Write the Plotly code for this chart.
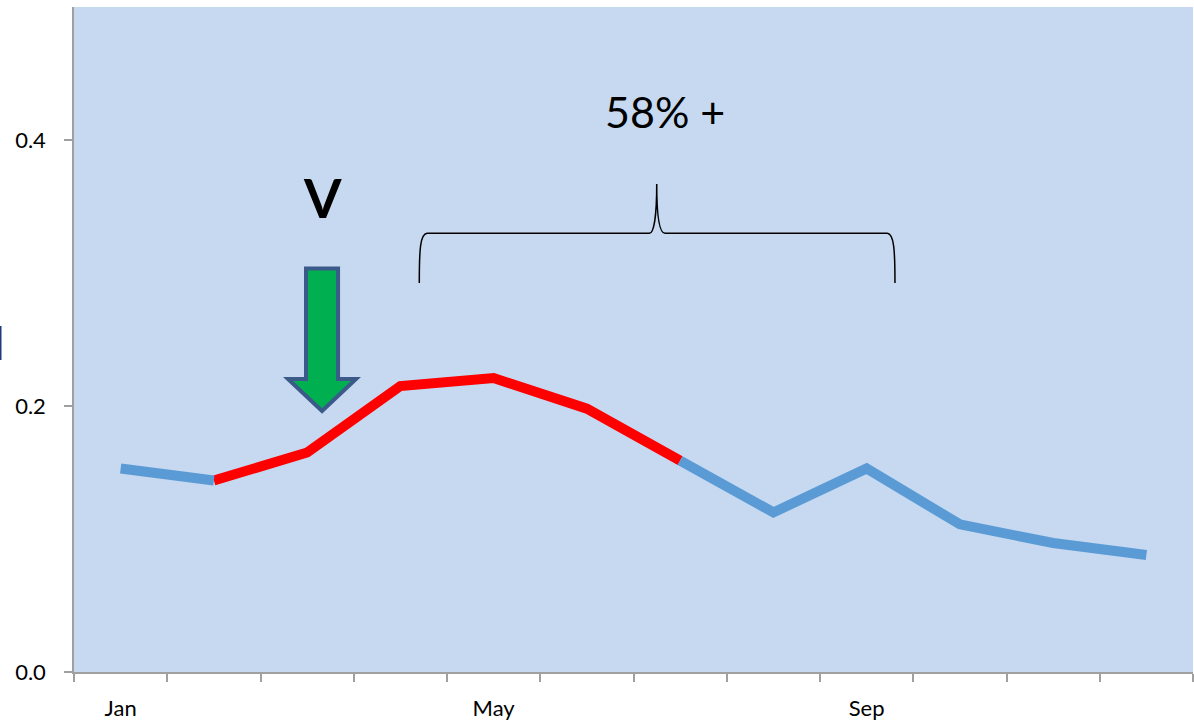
import plotly.graph_objects as go

# ---- data ----
months = ["Jan", "Feb", "Mar", "Apr", "May", "Jun", "Jul", "Aug", "Sep", "Oct", "Nov", "Dec"]
values = [0.153, 0.144, 0.165, 0.215, 0.221, 0.198, 0.159, 0.120, 0.153, 0.111, 0.097, 0.088]
highlight_start, highlight_end = 1, 6          # Feb .. Jul drawn in red
shown_labels = ["Jan", "May", "Sep"]
y_ticks = [0.0, 0.2, 0.4]

x_idx = list(range(len(months)))
red_y = [v if highlight_start <= i <= highlight_end else None for i, v in enumerate(values)]
blue_y = [v if (i <= highlight_start or i >= highlight_end) else None for i, v in enumerate(values)]

BLUE = "#5b9bd5"
RED = "#ff0000"
AXIS = "#a0a0a0"
FONT = "Lato"
TICKFONT = dict(family=FONT, size=22, color="black")

fig = go.Figure()
fig.add_trace(go.Scatter(x=x_idx, y=red_y, mode="lines", line=dict(color=RED, width=10),
                         connectgaps=False, hoverinfo="skip", showlegend=False))
fig.add_trace(go.Scatter(x=x_idx, y=blue_y, mode="lines", line=dict(color=BLUE, width=10),
                         connectgaps=False, hoverinfo="skip", showlegend=False))

# green arrow (annotation shape, data coords)
fig.add_shape(type="path",
              path="M 1.988 0.3034 L 2.332 0.3034 L 2.332 0.2203 L 2.524 0.2203 "
                   "L 2.160 0.1962 L 1.795 0.2203 L 1.988 0.2203 Z",
              xref="x", yref="y", fillcolor="#00b050",
              line=dict(color="#3b5a8a", width=4))

# curly brace
fig.add_shape(type="path",
              path="M 3.203 0.2925 C 3.203 0.3173 3.211 0.3293 3.286 0.3298 "
                   "L 5.670 0.3298 C 5.720 0.3298 5.749 0.3436 5.749 0.3669 "
                   "C 5.749 0.3436 5.774 0.3298 5.838 0.3298 "
                   "L 8.222 0.3298 C 8.294 0.3293 8.304 0.3173 8.304 0.2925",
              xref="x", yref="y", line=dict(color="black", width=1.5))

# clipped dark-blue mark at the far left edge
fig.add_shape(type="rect", xref="paper", yref="paper",
              x0=-74 / 1119, x1=-72.5 / 1119, y0=0.4692, y1=0.5203,
              fillcolor="#1f3b7c", line=dict(width=0))

fig.add_annotation(x=2.16, y=0.3564, xref="x", yref="y", text="<b>V</b>", showarrow=False,
                   font=dict(family=FONT, size=54, color="black"), yanchor="middle")
fig.add_annotation(x=5.843, y=0.4218, xref="x", yref="y", text="58% +", showarrow=False,
                   font=dict(family=FONT, size=43, color="black"), yanchor="middle")

fig.update_layout(
    width=1194, height=720,
    margin=dict(l=74, r=1, t=7, b=48, autoexpand=False),
    paper_bgcolor="white", plot_bgcolor="#c6d9f0",
    showlegend=False,
    font=dict(family=FONT, size=22, color="black"),
    xaxis=dict(range=[-0.5, len(months) - 0.5],
               tickmode="array",
               tickvals=[months.index(m) for m in shown_labels],
               ticktext=shown_labels, tickfont=TICKFONT,
               ticks="", showgrid=False, zeroline=False,
               showline=True, linecolor=AXIS, linewidth=1.5,
               ticklabelstandoff=16, automargin=False,
               minor=dict(tickmode="array",
                          tickvals=[i - 0.5 for i in range(len(months) + 1)],
                          ticks="outside", ticklen=8, tickcolor=AXIS, tickwidth=1.5,
                          showgrid=False),
               fixedrange=True),
    yaxis=dict(range=[0, 0.5], tickmode="array", tickvals=y_ticks,
               tickformat=".1f", tickfont=TICKFONT,
               ticks="outside", ticklen=8, tickcolor=AXIS, tickwidth=1.5,
               showgrid=False, zeroline=False,
               showline=True, linecolor=AXIS, linewidth=1.5,
               ticklabelstandoff=14, automargin=False, fixedrange=True),
)

fig.write_html("out.html")
